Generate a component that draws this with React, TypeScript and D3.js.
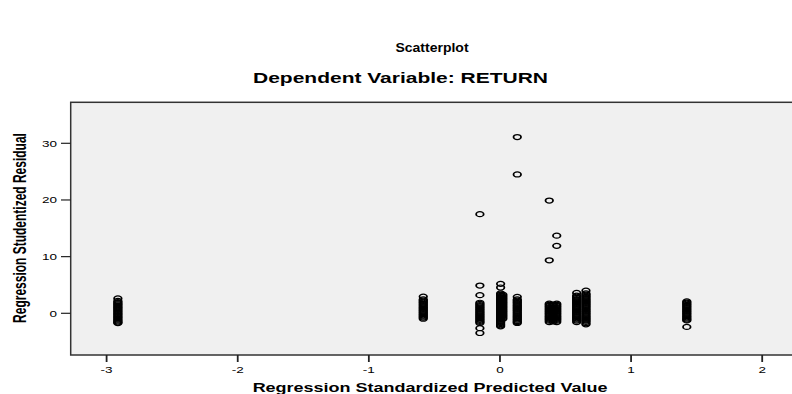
import React from "react";
import * as d3 from "d3";

// ---- data ----
const xTicks = [-3, -2, -1, 0, 1, 2];
const yTicks = [0, 10, 20, 30];

// each group: predicted value (x) and its studentized residuals (y)
const predA = -2.914;
const residA = [2.62, 2.18, 1.98, 1.79, 1.6, 1.42, 1.21, 1.03, 0.84, 0.65, 0.46, 0.27, 0.07, -0.12, -0.31, -0.5, -0.69, -0.88, -1.08, -1.26, -1.45, -1.62, -1.72];

const predB = -0.585;
const residB = [2.95, 2.45, 2.26, 2.05, 1.86, 1.65, 1.45, 1.25, 1.04, 0.84, 0.64, 0.45, 0.24, 0.05, -0.15, -0.35, -0.55, -0.75, -0.95];

const predC = -0.153;
const residC = [17.5, 4.9, 3.2, 1.86, 1.66, 1.45, 1.25, 1.05, 0.85, 0.65, 0.45, 0.25, 0.05, -0.15, -0.35, -0.55, -0.75, -0.95, -1.15, -1.34, -1.52, -1.7, -2.62, -3.48];

const predD1 = 0.005;
const residD1 = [5.2, 4.55, 3.5, 3.3, 3.08, 2.88, 2.68, 2.48, 2.28, 2.08, 1.88, 1.68, 1.48, 1.28, 1.08, 0.88, 0.68, 0.48, 0.28, 0.08, -0.12, -0.32, -0.52, -0.72, -0.92, -1.12, -1.32, -1.52, -1.72, -1.92, -2.12, -2.3];
const predD2 = 0.022;
const residD2 = [3.3, 3.05, 2.8, 2.55, 2.3, 2.05, 1.8, 1.55, 1.3, 1.05, 0.8, 0.55, 0.3, 0.05, -0.2, -0.45, -0.7, -0.95];

const predE = 0.132;
const residE = [31.1, 24.5, 2.9, 2.45, 2.25, 2.04, 1.85, 1.64, 1.44, 1.25, 1.04, 0.85, 0.64, 0.44, 0.25, 0.04, -0.15, -0.36, -0.55, -0.75, -0.95, -1.14, -1.35, -1.54, -1.7];

const predF1 = 0.376;
const residF1 = [19.9, 9.35, 1.7, 1.5, 1.3, 1.1, 0.9, 0.7, 0.5, 0.3, 0.1, -0.1, -0.3, -0.5, -0.7, -0.9, -1.1, -1.3, -1.55];
const predF2 = 0.405;
const residF2 = [1.55, 1.3, 1.05, 0.8, 0.55, 0.3, 0.05, -0.2, -0.45, -0.7, -0.95, -1.2, -1.45];
const predF3 = 0.433;
const residF3 = [13.7, 11.9, 1.7, 1.5, 1.3, 1.1, 0.9, 0.7, 0.5, 0.3, 0.1, -0.1, -0.3, -0.5, -0.7, -0.9, -1.1, -1.3, -1.55];

const predG1 = 0.585;
const residG1 = [3.6, 3.12, 2.92, 2.72, 2.52, 2.32, 2.12, 1.92, 1.72, 1.52, 1.32, 1.12, 0.92, 0.72, 0.52, 0.32, 0.12, -0.08, -0.28, -0.48, -0.68, -0.88, -1.08, -1.28, -1.55];
const predG2 = 0.656;
const residG2 = [4.0, 3.5, 3.3, 3.1, 2.9, 2.7, 2.5, 2.3, 2.1, 1.9, 1.7, 1.5, 1.3, 1.1, 0.9, 0.7, 0.5, 0.3, 0.1, -0.1, -0.3, -0.5, -0.7, -0.9, -1.1, -1.3, -1.5, -1.75, -1.95];

const predH = 1.425;
const residH = [2.1, 1.9, 1.7, 1.5, 1.3, 1.1, 0.9, 0.7, 0.5, 0.3, 0.1, -0.1, -0.3, -0.5, -0.7, -0.9, -1.1, -1.25, -2.4];

const groups: [number, number[]][] = [
  [predA, residA], [predB, residB], [predC, residC], [predD1, residD1], [predD2, residD2],
  [predE, residE], [predF1, residF1], [predF2, residF2], [predF3, residF3],
  [predG1, residG1], [predG2, residG2], [predH, residH],
];

const W = 792, H = 394;
const left = 70.7, top = 102.3, bottom = 355;
const SX = 1.5; // horizontal stretch of the original image
const font = "'Liberation Sans', Arial, Helvetica, sans-serif";

export default function App() {
  const x = d3.scaleLinear().domain([-3, 2]).range([106.6, 762.2]);
  const y = d3.scaleLinear().domain([0, 30]).range([313.3, 143.3]);
  const points = groups.flatMap(([px, rs]) => rs.map((r) => ({ px, r })));

  return (
    <svg width={W} height={H} style={{ position: "absolute", left: 0, top: 0, background: "#fff" }}>
      <text transform={`translate(432,51.5) scale(1.12,1)`} textAnchor="middle" fontFamily={font} fontWeight="bold" fontSize={12.5}>Scatterplot</text>
      <text transform={`translate(400.5,83) scale(${SX},1)`} textAnchor="middle" fontFamily={font} fontWeight="bold" fontSize={14}>Dependent Variable: RETURN</text>

      <rect x={left} y={top} width={W + 20 - left} height={bottom - top} fill="#f0f0f0" stroke="#333" strokeWidth={1.5} />

      {yTicks.map((t) => (
        <g key={"y" + t}>
          <line x1={61} x2={left} y1={y(t)} y2={y(t)} stroke="#222" strokeWidth={1.2} />
          <text transform={`translate(57,${y(t) + 3.3}) scale(${SX},1)`} textAnchor="end" fontFamily={font} fontSize={9}>{t}</text>
        </g>
      ))}
      {xTicks.map((t) => (
        <g key={"x" + t}>
          <line x1={x(t)} x2={x(t)} y1={bottom} y2={362} stroke="#222" strokeWidth={1.8} />
          <text transform={`translate(${x(t)},372.5) scale(${SX},1)`} textAnchor="middle" fontFamily={font} fontSize={9}>{t}</text>
        </g>
      ))}

      <text transform={`translate(430,392) scale(${SX},1)`} textAnchor="middle" fontFamily={font} fontWeight="bold" fontSize={12}>Regression Standardized Predicted Value</text>
      <text transform={`translate(26,228) scale(${SX},1) rotate(-90)`} textAnchor="middle" fontFamily={font} fontWeight="bold" fontSize={12}>Regression Studentized Residual</text>

      <g fill="none" stroke="#000" strokeWidth={1.2}>
        {points.map((p, i) => (
          <circle key={i} r={2.5} transform={`translate(${x(p.px)},${y(p.r)}) scale(${SX},1)`} />
        ))}
      </g>
    </svg>
  );
}
